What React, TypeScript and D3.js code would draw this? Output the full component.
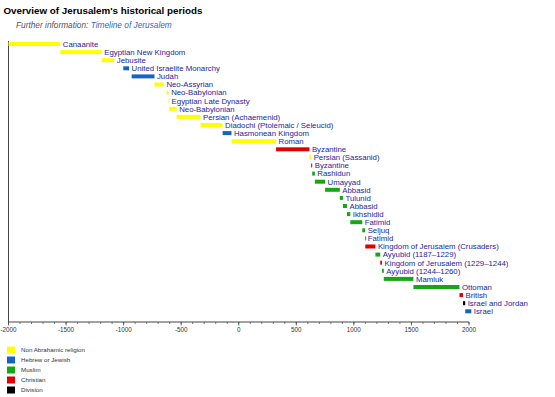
import { useEffect, useRef } from 'react'
import * as d3 from 'd3'

// periods, top to bottom
const periods = [
  'Canaanite',
  'Egyptian New Kingdom',
  'Jebusite',
  'United Israelite Monarchy',
  'Judah',
  'Neo-Assyrian',
  'Neo-Babylonian',
  'Egyptian Late Dynasty',
  'Neo-Babylonian',
  'Persian (Achaemenid)',
  'Diadochi (Ptolemaic / Seleucid)',
  'Hasmonean Kingdom',
  'Roman',
  'Byzantine',
  'Persian (Sassanid)',
  'Byzantine',
  'Rashidun',
  'Umayyad',
  'Abbasid',
  'Tulunid',
  'Abbasid',
  'Ikhshidid',
  'Fatimid',
  'Seljuq',
  'Fatimid',
  'Kingdom of Jerusalem (Crusaders)',
  'Ayyubid (1187–1229)',
  'Kingdom of Jerusalem (1229–1244)',
  'Ayyubid (1244–1260)',
  'Mamluk',
  'Ottoman',
  'British',
  'Israel and Jordan',
  'Israel',
]

const starts = [
  -2000, -1550, -1190, -1003, -930, -732, -626, -609, -605, -539, -332, -140, -63,
  324, 614, 629, 638, 661, 750, 878, 905, 940, 969, 1073, 1098, 1099, 1187, 1229,
  1244, 1260, 1517, 1917, 1948, 1967,
]

const ends = [
  -1550, -1190, -1081, -953, -732, -650, -609, -605, -539, -332, -141, -63, 324,
  614, 629, 638, 661, 750, 878, 905, 940, 969, 1073, 1098, 1099, 1187, 1229, 1244,
  1260, 1517, 1917, 1948, 1967, 2020,
]

const religions = [
  'non', 'non', 'non', 'jew', 'jew', 'non', 'non', 'non', 'non', 'non', 'non', 'jew',
  'non', 'chr', 'non', 'chr', 'mus', 'mus', 'mus', 'mus', 'mus', 'mus', 'mus', 'mus',
  'mus', 'chr', 'mus', 'chr', 'mus', 'mus', 'mus', 'chr', 'div', 'jew',
]

const legendKeys = ['non', 'jew', 'mus', 'chr', 'div']
const legendLabels = ['Non Abrahamic religion', 'Hebrew or Jewish', 'Muslim', 'Christian', 'Division']

const majorTicks = [-2000, -1500, -1000, -500, 0, 500, 1000, 1500, 2000]
const minorTicks = d3.range(-2000, 2001, 100)

const colors: Record<string, string> = {
  non: '#ffff00',
  jew: '#1464c8',
  mus: '#14a814',
  chr: '#e00000',
  div: '#000000',
}

export default function App() {
  const ref = useRef<SVGSVGElement | null>(null)

  useEffect(() => {
    if (!ref.current) return
    const svg = d3.select(ref.current)
    svg.selectAll('*').remove()

    const font = 'Liberation Sans, Arial, Helvetica, sans-serif'
    const axisY = 322

    const x = d3.scaleLinear().domain([-2000, 2000]).range([8.5, 469])
    const y = d3
      .scalePoint<number>()
      .domain(d3.range(periods.length))
      .range([44, 311.3])

    svg.append('rect').attr('width', 555).attr('height', 397).attr('fill', '#fff')

    svg
      .append('text')
      .attr('x', 3.5)
      .attr('y', 14)
      .attr('font-family', font)
      .attr('font-size', 9.8)
      .attr('font-weight', 700)
      .attr('fill', '#000')
      .text("Overview of Jerusalem's historical periods")

    const sub = svg
      .append('text')
      .attr('x', 16)
      .attr('y', 28)
      .attr('font-family', font)
      .attr('font-size', 8.3)
      .attr('font-style', 'italic')
    sub.append('tspan').attr('fill', '#555').text('Further information: ')
    sub.append('tspan').attr('fill', '#3366bb').text('Timeline of Jerusalem')

    // left line
    svg
      .append('line')
      .attr('x1', x(-2000))
      .attr('x2', x(-2000))
      .attr('y1', 41)
      .attr('y2', axisY)
      .attr('stroke', '#444')
      .attr('stroke-width', 1)

    const rows = periods.map((name, i) => ({
      name,
      i,
      start: starts[i],
      end: ends[i],
      rel: religions[i],
    }))

    svg
      .selectAll('.bar')
      .data(rows)
      .enter()
      .append('rect')
      .attr('class', 'bar')
      .attr('x', (d) => x(d.start))
      .attr('y', (d) => (y(d.i) ?? 0) - 2)
      .attr('width', (d) => Math.max(x(d.end) - x(d.start), 1))
      .attr('height', 4)
      .attr('fill', (d) => colors[d.rel])

    svg
      .selectAll('.label')
      .data(rows)
      .enter()
      .append('text')
      .attr('class', 'label')
      .attr('x', (d) => x(d.end) + 2.5)
      .attr('y', (d) => (y(d.i) ?? 0) + 2.8)
      .attr('font-family', font)
      .attr('font-size', 7.8)
      .attr('fill', '#1e1e9c')
      .text((d) => d.name)

    // axis
    const axis = svg.append('g').attr('transform', `translate(0,${axisY})`)
    axis
      .append('line')
      .attr('x1', x(-2000))
      .attr('x2', x(2000))
      .attr('stroke', '#444')
    axis
      .selectAll('.minor')
      .data(minorTicks)
      .enter()
      .append('line')
      .attr('x1', (d) => x(d))
      .attr('x2', (d) => x(d))
      .attr('y1', 0)
      .attr('y2', 2)
      .attr('stroke', '#444')
      .attr('stroke-width', 0.7)
    axis
      .selectAll('.major')
      .data(majorTicks)
      .enter()
      .append('line')
      .attr('x1', (d) => x(d))
      .attr('x2', (d) => x(d))
      .attr('y1', 0)
      .attr('y2', 3.5)
      .attr('stroke', '#444')
      .attr('stroke-width', 0.8)
    axis
      .selectAll('.tick-label')
      .data(majorTicks)
      .enter()
      .append('text')
      .attr('x', (d) => x(d))
      .attr('y', 10)
      .attr('text-anchor', 'middle')
      .attr('font-family', font)
      .attr('font-size', 6.3)
      .attr('fill', '#333')
      .text((d) => String(d))

    // legend
    const lg = svg
      .selectAll('.legend')
      .data(legendKeys)
      .enter()
      .append('g')
      .attr('transform', (_, i) => `translate(7,${346.5 + i * 10})`)
    lg.append('rect')
      .attr('width', 8)
      .attr('height', 7)
      .attr('fill', (d) => colors[d])
    lg.append('text')
      .attr('x', 14)
      .attr('y', 5.6)
      .attr('font-family', font)
      .attr('font-size', 6.2)
      .attr('fill', '#333')
      .text((_, i) => legendLabels[i])
  }, [])

  return (
    <svg
      ref={ref}
      width={555}
      height={397}
      viewBox="0 0 555 397"
      style={{ position: 'absolute', left: 0, top: 0 }}
    />
  )
}
